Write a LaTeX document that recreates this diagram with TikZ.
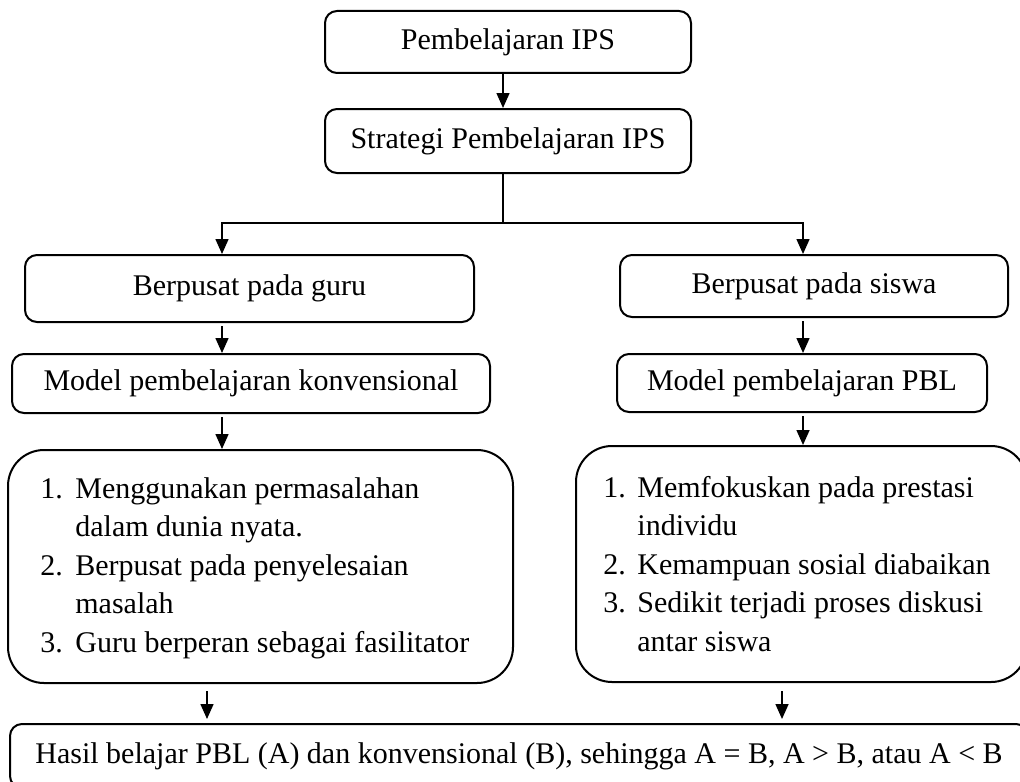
\documentclass[tikz,border=0pt]{standalone}
\usepackage{fontspec}
\setmainfont{Liberation Serif}
\usetikzlibrary{arrows.meta}
\begin{document}
\begin{tikzpicture}[x=0.5pt,y=-0.5pt,
  txt/.style={font=\fontsize{15}{19.25}\selectfont},
  box/.style={draw, line width=1pt, rounded corners=6pt, inner sep=0pt, txt},
  bigbox/.style={draw, line width=1pt, rounded corners=18pt, inner sep=0pt},
  arr/.style={line width=0.75pt, -{Triangle[length=7.5pt,width=6.5pt]}},
  conn/.style={line width=0.75pt}]
\useasboundingbox (0,0) rectangle (1020,781);
% boxes
\node[box, minimum width=183pt, minimum height=31pt] (b1) at (508,42) {Pembelajaran IPS};
\node[box, minimum width=183pt, minimum height=32pt] (b2) at (508,141) {Strategi Pembelajaran IPS};
\node[box, minimum width=224.5pt, minimum height=33.5pt] (b3) at (249.5,288.5) {Berpusat pada guru};
\node[box, minimum width=194pt, minimum height=31pt] (b4) at (814,286) {Berpusat pada siswa};
\node[box, minimum width=239pt, minimum height=29.5pt] (b5) at (251,383.5) {Model pembelajaran konvensional};
\node[box, minimum width=185pt, minimum height=29pt] (b6) at (802,383) {Model pembelajaran PBL};
\node[bigbox, minimum width=252.5pt, minimum height=116.5pt] (b7) at (260.5,566.5) {};
\node[bigbox, minimum width=225.5pt, minimum height=118pt] (b8) at (801.5,564) {};
\node[box, minimum width=509pt, minimum height=32pt] (b9) at (519,756) {Hasil belajar PBL (A) dan konvensional (B), sehingga A = B, A > B, atau A < B};
% list texts
\node[txt, anchor=base west, inner sep=0pt] (l7) at (40,498) {\begin{tabular}[t]{@{}p{17.5pt}@{}l@{}}
1.&Menggunakan permasalahan\\
  &dalam dunia nyata.\\
2.&Berpusat pada penyelesaian\\
  &masalah\\
3.&Guru berperan sebagai fasilitator
\end{tabular}};
\node[txt, anchor=base west, inner sep=0pt] (l8) at (603,497) {\begin{tabular}[t]{@{}p{17pt}@{}l@{}}
1.&Memfokuskan pada prestasi\\
  &individu\\
2.&Kemampuan sosial diabaikan\\
3.&Sedikit terjadi proses diskusi\\
  &antar siswa
\end{tabular}};
% guide coordinates
\coordinate (xm) at (503,0);
\coordinate (xl) at (222,0);
\coordinate (xr) at (803,0);
\coordinate (xl2) at (207,0);
\coordinate (xr2) at (782,0);
\coordinate (jy) at (0,223);
% connectors
\draw[arr] (b1.south -| xm) -- (b2.north -| xm);
\draw[conn] (b2.south -| xm) -- (xm |- jy) coordinate (j);
\draw[arr] (j) -| (b3.north -| xl);
\draw[arr] (j) -| (b4.north -| xr);
\draw[arr, shorten <=1.5pt] (b3.south -| xl) -- (b5.north -| xl);
\draw[arr, shorten <=1.5pt] (b4.south -| xr) -- (b6.north -| xr);
\draw[arr, shorten <=1.5pt] (b5.south -| xl) -- (b7.north -| xl);
\draw[arr, shorten <=1.5pt] (b6.south -| xr) -- (b8.north -| xr);
\draw[arr, shorten <=3.5pt, shorten >=2pt] (b7.south -| xl2) -- (b9.north -| xl2);
\draw[arr, shorten <=4pt, shorten >=2pt] (b8.south -| xr2) -- (b9.north -| xr2);
\end{tikzpicture}
\end{document}
